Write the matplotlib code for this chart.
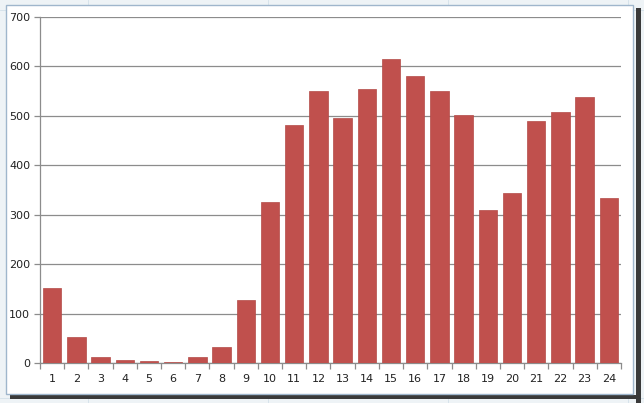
import matplotlib
matplotlib.use("Agg")
import matplotlib.pyplot as plt
from matplotlib.patches import Rectangle
import numpy as np

categories = [str(i) for i in range(1, 25)]
values = [152, 53, 12, 7, 4, 2, 12, 32, 128, 326, 482, 551, 496, 555, 615, 581,
          551, 502, 310, 344, 490, 508, 538, 334]
yticks = [0, 100, 200, 300, 400, 500, 600, 700]

W, H = 644, 403
fig = plt.figure(figsize=(W / 100, H / 100), dpi=100)
fig.patch.set_facecolor("#eef3f6")

# faint spreadsheet cell lines in background
for xc in [88, 268, 448, 628]:
    fig.add_artist(plt.Line2D([xc / W, xc / W], [0, 1], color="#d3e0ea", lw=0.6, zorder=0.1))
for yc in [10, 398]:
    fig.add_artist(plt.Line2D([0, 1], [1 - yc / H, 1 - yc / H], color="#d3e0ea", lw=0.6, zorder=0.1))

# shadow
fig.add_artist(Rectangle((636 / W, 0), 5 / W, 1 - 8 / H, transform=fig.transFigure,
                         facecolor="#3a3a3a", edgecolor="none", zorder=0.2))
fig.add_artist(Rectangle((10 / W, 1 - 399 / H), 631 / W, 4 / H, transform=fig.transFigure,
                         facecolor="#3a3a3a", edgecolor="none", zorder=0.2))
# chart area
fig.add_artist(Rectangle((6 / W, 1 - 394 / H), 627 / W, 389 / H, transform=fig.transFigure,
                         facecolor="white", edgecolor="#9fb6cc", lw=1.0, zorder=0.5))

left, right, top, bottom = 40, 621, 17, 363
ax = fig.add_axes([left / W, 1 - bottom / H, (right - left) / W, (bottom - top) / H])
ax.set_zorder(5)
ax.set_facecolor("none")

x = np.arange(1, len(values) + 1)
ax.bar(x, values, width=0.76, color="#c0504d", edgecolor="#b34a47", lw=0.5, zorder=3)

ax.set_xlim(0.5, 24.5)
ax.set_ylim(0, 700)
ax.set_yticks(yticks)
ax.set_yticklabels([str(v) for v in yticks])
ax.set_xticks(x)
ax.set_xticklabels(categories)
ax.set_xticks(np.arange(0.5, 25, 1), minor=True)

ax.yaxis.grid(True, color="#8c8c8c", lw=0.9, zorder=0)
ax.set_axisbelow(True)

for s in ["top", "right"]:
    ax.spines[s].set_visible(False)
for s in ["left", "bottom"]:
    ax.spines[s].set_color("#8c8c8c")
    ax.spines[s].set_linewidth(0.9)

ax.tick_params(axis="x", which="major", length=0, pad=8, labelsize=8, labelcolor="#222222")
ax.tick_params(axis="x", which="minor", length=4, color="#8c8c8c", width=0.9)
ax.tick_params(axis="y", which="major", length=4, color="#8c8c8c", width=0.9, pad=3,
               labelsize=8, labelcolor="#222222")

fig.savefig("out.png", dpi=100, facecolor=fig.get_facecolor())
